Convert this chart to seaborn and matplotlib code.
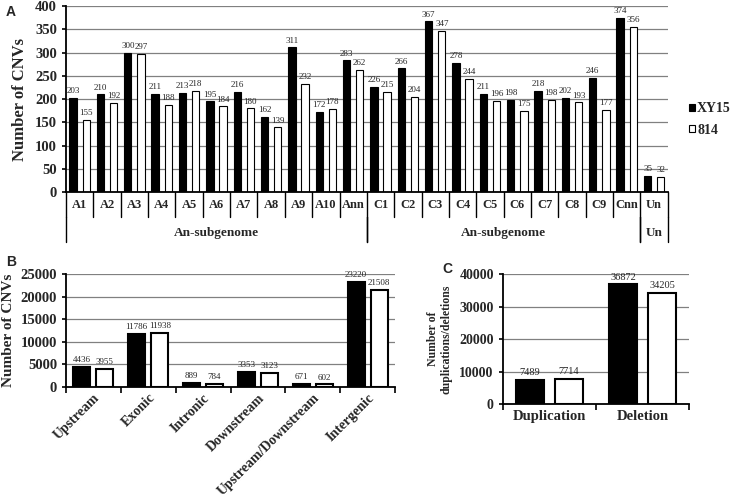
import matplotlib
matplotlib.use('Agg')
import matplotlib.pyplot as plt
import matplotlib.transforms as mtransforms
from matplotlib.patches import Patch
import pandas as pd
import seaborn as sns

# panel A: CNVs per chromosome
chroms = ['A1', 'A2', 'A3', 'A4', 'A5', 'A6', 'A7', 'A8', 'A9', 'A10', 'Ann',
          'C1', 'C2', 'C3', 'C4', 'C5', 'C6', 'C7', 'C8', 'C9', 'Cnn', 'Un']
xy15_chr = [203, 210, 300, 211, 213, 195, 216, 162, 311, 172, 283,
            226, 266, 367, 278, 211, 198, 218, 202, 246, 374, 35]
s814_chr = [155, 192, 297, 188, 218, 184, 180, 139, 232, 178, 262,
            215, 204, 347, 244, 196, 175, 198, 193, 177, 356, 32]
groups = ['An-subgenome', 'An-subgenome', 'Un']
group_sizes = [11, 10, 1]

# panel B: CNVs per genomic region
regions = ['Upstream', 'Exonic', 'Intronic', 'Downstream', 'Upstream/Downstream', 'Intergenic']
xy15_reg = [4436, 11786, 889, 3353, 671, 23220]
s814_reg = [3955, 11938, 784, 3123, 602, 21508]

# panel C: duplications / deletions
types = ['Duplication', 'Deletion']
xy15_type = [7489, 36872]
s814_type = [7714, 34205]

lines = ['XY15', '814']
pal = {'XY15': 'black', '814': 'white'}

sns.set_style('white')
plt.rcParams['font.family'] = ['Liberation Serif', 'DejaVu Serif']

fig = plt.figure(figsize=(7.33, 5.04), dpi=100)
axA = fig.add_axes([0.090, 0.619, 0.821, 0.369])
axB = fig.add_axes([0.090, 0.232, 0.449, 0.224])
axC = fig.add_axes([0.686, 0.198, 0.254, 0.258])


def draw(ax, cats, a, b, width, gap, lw, fs, ymax, step):
    df = pd.DataFrame({'cat': cats * 2,
                       'line': ['XY15'] * len(cats) + ['814'] * len(cats),
                       'n': a + b})
    sns.barplot(data=df, x='cat', y='n', hue='line', order=cats, hue_order=lines,
                palette=pal, edgecolor='black', linewidth=lw, width=width, gap=gap,
                saturation=1, errorbar=None, legend=False, ax=ax)
    for c in ax.containers:
        ax.bar_label(c, fontsize=fs, padding=2)
    ax.set_ylim(0, ymax)
    ax.set_xlim(-0.5, len(cats) - 0.5)
    ax.set_yticks(range(0, ymax + 1, step))
    ax.yaxis.grid(True, color='#808080', lw=0.9)
    ax.set_axisbelow(True)
    for s in ['top', 'right']:
        ax.spines[s].set_visible(False)
    for s in ['left', 'bottom']:
        ax.spines[s].set_color('black')
        ax.spines[s].set_linewidth(1.3)
    ax.tick_params(axis='y', left=True, length=3, width=1.2, color='black')
    ax.set_xlabel('')
    ax.set_ylabel('')


# ---- A ----
draw(axA, chroms, xy15_chr, s814_chr, 0.96, 0.44, 0.8, 6.5, 400, 50)
axA.tick_params(axis='y', labelsize=10.5)
for t in axA.get_yticklabels():
    t.set_fontweight('bold')
axA.set_xticks([])
axA.set_ylabel('Number of CNVs', fontsize=12, fontweight='bold', labelpad=5)
tr = mtransforms.blended_transform_factory(axA.transData, axA.transAxes)
n = len(chroms)
for i in range(n + 1):
    axA.plot([i - 0.5, i - 0.5], [0, -0.134], transform=tr, color='black', lw=1, clip_on=False)
for i, c in enumerate(chroms):
    axA.text(i, -0.072, c, transform=tr, ha='center', va='center', fontsize=9, fontweight='bold')
start = 0
for g, size in zip(groups, group_sizes):
    for edge in [start, start + size]:
        axA.plot([edge - 0.5, edge - 0.5], [-0.134, -0.27], transform=tr, color='black', lw=1, clip_on=False)
    axA.text(start + size / 2 - 0.5, -0.218, g, transform=tr, ha='center', va='center',
             fontsize=9.5, fontweight='bold')
    start += size
handles = [Patch(facecolor=pal[l], edgecolor='black', lw=0.8) for l in lines]
axA.legend(handles, lines, loc='center left', bbox_to_anchor=(1.035, 0.39), frameon=False,
           borderaxespad=0, borderpad=0, handlelength=0.45, handleheight=0.45,
           handletextpad=0.15, labelspacing=0.6, prop={'weight': 'bold', 'size': 10})

# ---- B ----
draw(axB, regions, xy15_reg, s814_reg, 0.84, 0.26, 1.5, 6.5, 25000, 5000)
axB.tick_params(axis='y', labelsize=10.5)
for t in axB.get_yticklabels():
    t.set_fontweight('bold')
axB.set_xticks(range(len(regions)))
axB.set_xticklabels(regions, rotation=45, ha='right', rotation_mode='anchor',
                    fontsize=10, fontweight='bold')
axB.tick_params(axis='x', which='major', length=0, pad=3)
axB.set_xticks([i - 0.5 for i in range(len(regions) + 1)], minor=True)
axB.tick_params(axis='x', which='minor', bottom=True, length=4, width=1.2, color='black')
axB.set_ylabel('Number of CNVs', fontsize=11, fontweight='bold', labelpad=4)

# ---- C ----
draw(axC, types, xy15_type, s814_type, 0.84, 0.3, 1.5, 7.5, 40000, 10000)
axC.tick_params(axis='y', labelsize=10)
for t in axC.get_yticklabels():
    t.set_fontweight('bold')
axC.set_xticks(range(len(types)))
axC.set_xticklabels(types, fontsize=10.5, fontweight='bold')
axC.tick_params(axis='x', which='major', length=0, pad=4)
axC.set_xticks([i - 0.5 for i in range(len(types) + 1)], minor=True)
axC.tick_params(axis='x', which='minor', bottom=True, length=4, width=1.2, color='black')
axC.set_ylabel('Number of\nduplications/deletions', fontsize=8.5, fontweight='bold', labelpad=5)

# panel letters
for lbl, (x, y) in zip(['A', 'B', 'C'], [(0.008, 0.99), (0.008, 0.494), (0.604, 0.48)]):
    fig.text(x, y, lbl, family='Liberation Sans', fontweight='bold', fontsize=10, va='top')

fig.savefig('out.png', dpi=100)
